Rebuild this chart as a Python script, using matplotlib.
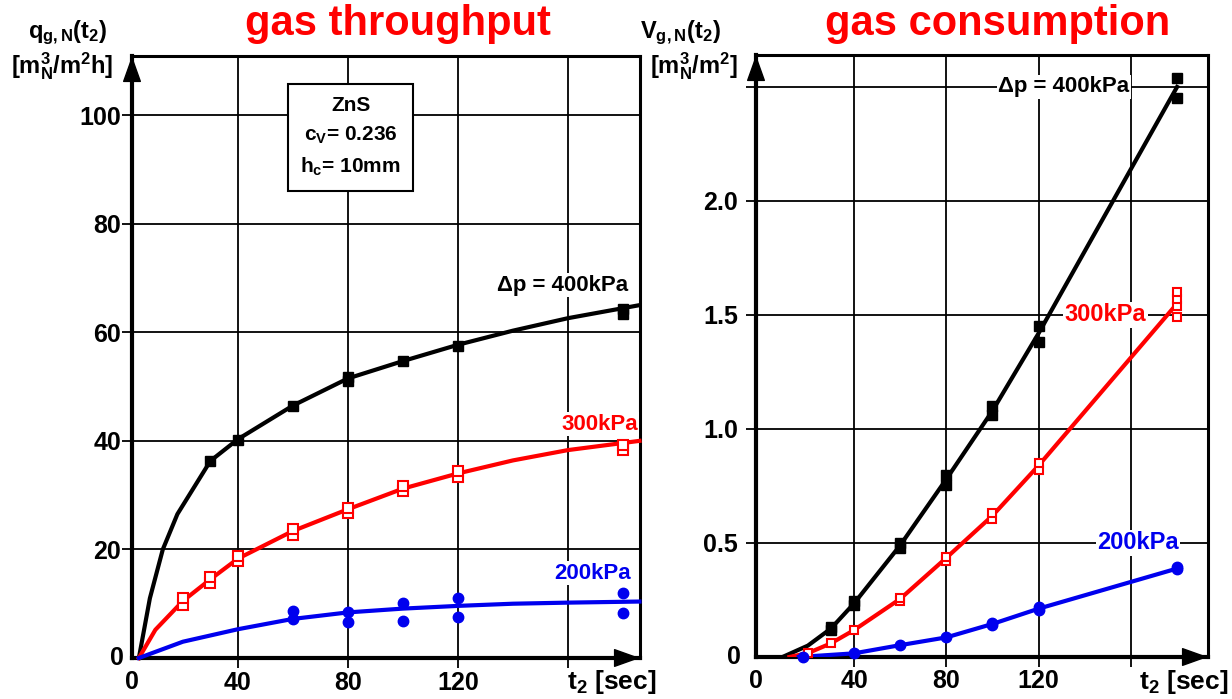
import matplotlib
matplotlib.use("Agg")
import matplotlib.pyplot as plt

plt.rcParams['font.family'] = ['Liberation Sans', 'DejaVu Sans']
plt.rcParams['font.weight'] = 'bold'
plt.rcParams['mathtext.fontset'] = 'custom'
plt.rcParams['mathtext.bf'] = 'Liberation Sans:bold'
plt.rcParams['mathtext.rm'] = 'Liberation Sans:bold'
plt.rcParams['mathtext.it'] = 'Liberation Sans:bold'
plt.rcParams['mathtext.default'] = 'bf'

RED = '#ff0000'
BLUE = '#0000ee'

# ---- gas throughput q_gN(t2) ----
q400_line_t = [4, 8, 12.7, 18, 30, 40, 60, 80, 100, 120, 140, 160, 186]
q400_line = [0, 11, 20, 26.5, 36.3, 40.3, 46.5, 51.5, 54.7, 57.7, 60.3, 62.6, 65]
q400_pts_t = [30, 40, 60, 80, 80, 100, 120, 180, 180]
q400_pts = [36.2, 40.2, 46.5, 51.0, 51.8, 54.7, 57.5, 63.3, 64.3]

q300_line_t = [4, 10, 20, 30, 40, 60, 80, 100, 120, 140, 160, 186]
q300_line = [0, 5.2, 10.5, 14.5, 18.3, 23.4, 27.4, 31.2, 34.0, 36.4, 38.3, 40]
q300_pts_t = [20, 20, 30, 30, 40, 40, 60, 60, 80, 80, 100, 100, 120, 120, 180, 180]
q300_pts = [9.8, 11.0, 13.8, 15.0, 17.8, 18.8, 22.7, 23.8, 26.7, 27.7, 30.8, 31.6, 33.4, 34.4, 38.3, 39.3]

q200_line_t = [4, 20, 40, 60, 80, 100, 120, 140, 160, 186]
q200_line = [0, 3.0, 5.3, 7.2, 8.4, 9.1, 9.6, 10.0, 10.2, 10.4]
q200_pts_t = [60, 60, 80, 80, 100, 100, 120, 120, 180, 180]
q200_pts = [7.2, 8.6, 6.6, 8.4, 6.9, 10.2, 7.6, 11.0, 8.2, 12.0]

# ---- gas consumption V_gN(t2) ----
v400_line_t = [9, 20, 30, 40, 60, 80, 100, 120, 180]
v400_line = [0, 0.05, 0.125, 0.235, 0.49, 0.78, 1.08, 1.42, 2.5]
v400_pts_t = [30, 30, 40, 40, 60, 60, 80, 80, 100, 100, 120, 120, 180, 180]
v400_pts = [0.12, 0.13, 0.23, 0.245, 0.48, 0.50, 0.755, 0.80, 1.06, 1.10, 1.38, 1.45, 2.45, 2.54]

v300_line_t = [12, 20, 30, 40, 60, 80, 100, 120, 180]
v300_line = [0, 0.017, 0.06, 0.118, 0.255, 0.435, 0.62, 0.84, 1.55]
v300_pts_t = [20, 30, 40, 60, 60, 80, 80, 100, 100, 120, 120, 180, 180, 180, 180]
v300_pts = [0.017, 0.06, 0.118, 0.245, 0.26, 0.42, 0.44, 0.605, 0.63, 0.82, 0.85, 1.49, 1.54, 1.57, 1.60]

v200_line_t = [16, 40, 60, 80, 100, 120, 180]
v200_line = [0, 0.016, 0.052, 0.086, 0.145, 0.212, 0.388]
v200_pts_t = [18, 40, 60, 80, 100, 100, 120, 120, 180, 180]
v200_pts = [0, 0.016, 0.052, 0.086, 0.14, 0.15, 0.205, 0.22, 0.385, 0.395]

fig = plt.figure(figsize=(12.32, 6.99), dpi=100)
ax1 = fig.add_axes([132 / 1232, 41 / 699, 508 / 1232, 602 / 699])
ax2 = fig.add_axes([756 / 1232, 42 / 699, 452 / 1232, 602 / 699])

TICK_FS = 18


def style_axes(ax, xlim, ylim, xticks, yticks, ylabels, ypad):
    ax.set_xlim(*xlim)
    ax.set_ylim(*ylim)
    ax.set_xticks(xticks)
    ax.set_xticklabels(['40', '80', '120', ''])
    ax.set_yticks(yticks)
    ax.set_yticklabels(ylabels)
    ax.grid(True, color='black', lw=1.3, zorder=0)
    ax.set_axisbelow(True)
    ax.tick_params(direction='out', length=7, width=1.3, labelsize=TICK_FS, pad=2)
    ax.tick_params(axis='y', pad=ypad)
    for s in ax.spines.values():
        s.set_linewidth(2.2)
    ax.spines['left'].set_linewidth(3)
    ax.spines['bottom'].set_linewidth(3)
    for lab in ax.get_xticklabels() + ax.get_yticklabels():
        lab.set_fontweight('bold')
    # "0" at the origin
    ax.annotate('0', xy=(0, 0), xycoords='axes fraction', xytext=(0, -17),
                textcoords='offset points', ha='center', va='center', fontsize=TICK_FS)
    ax.annotate('0', xy=(0, 0), xycoords='axes fraction', xytext=(-(5 + ypad), 0),
                textcoords='offset points', ha='right', va='center', fontsize=TICK_FS)
    # arrows on axes
    ax.annotate('', xy=(0, 1), xytext=(0, 0.9), xycoords='axes fraction',
                arrowprops=dict(arrowstyle='-|>,head_length=0.7,head_width=0.25',
                                mutation_scale=24, color='black', lw=1, shrinkA=0, shrinkB=0))
    ax.annotate('', xy=(1, 0), xytext=(0.9, 0), xycoords='axes fraction',
                arrowprops=dict(arrowstyle='-|>,head_length=0.7,head_width=0.25',
                                mutation_scale=24, color='black', lw=1, shrinkA=0, shrinkB=0))


style_axes(ax1, (1.5, 186.2), (0, 110.9), [40, 80, 120, 160],
           [20, 40, 60, 80, 100], ['20', '40', '60', '80', '100'], 1)
style_axes(ax2, (-2.5, 193.4), (0, 2.64), [40, 80, 120, 160],
           [0.5, 1.0, 1.5, 2.0, 2.5], ['0.5', '1.0', '1.5', '2.0', ''], 6)

LW = 3

# left panel curves
ax1.plot(q400_line_t, q400_line, color='black', lw=LW, zorder=3, clip_on=False)
ax1.plot(q400_pts_t, q400_pts, 's', color='black', ms=6.5, zorder=4, clip_on=False)
ax1.plot(q300_line_t, q300_line, color=RED, lw=LW, zorder=3, clip_on=False)
ax1.plot(q300_pts_t, q300_pts, 's', mfc='white', mec=RED, mew=1.5, ms=7, zorder=4, clip_on=False)
ax1.plot(q200_line_t, q200_line, color=BLUE, lw=LW, zorder=3, clip_on=False)
ax1.plot(q200_pts_t, q200_pts, 'o', color=BLUE, ms=7.5, zorder=4, clip_on=False)

# right panel curves
ax2.plot(v400_line_t, v400_line, color='black', lw=LW, zorder=3)
ax2.plot(v400_pts_t, v400_pts, 's', color='black', ms=7, zorder=4, clip_on=False)
ax2.plot(v300_line_t, v300_line, color=RED, lw=LW, zorder=3)
ax2.plot(v300_pts_t, v300_pts, 's', mfc='white', mec=RED, mew=1.5, ms=6, zorder=4, clip_on=False)
ax2.plot(v200_line_t, v200_line, color=BLUE, lw=LW, zorder=3)
ax2.plot(v200_pts_t, v200_pts, 'o', color=BLUE, ms=7.5, zorder=4, clip_on=False)

LAB_FS = 16
wb = dict(facecolor='white', edgecolor='none', pad=1)
ax1.text(158, 68.7, '\u0394p = 400kPa', ha='center', va='center', fontsize=LAB_FS, color='black', bbox=wb, zorder=5)
ax1.text(171.5, 43.1, '300kPa', ha='center', va='center', fontsize=LAB_FS, color=RED, bbox=wb, zorder=5)
ax1.text(169, 15.6, '200kPa', ha='center', va='center', fontsize=LAB_FS, color=BLUE, bbox=wb, zorder=5)

ax2.text(131, 2.5, '\u0394p = 400kPa', ha='center', va='center', fontsize=LAB_FS, color='black', bbox=wb, zorder=5)
ax2.text(149, 1.5, '300kPa', ha='center', va='center', fontsize=LAB_FS + 1, color=RED, bbox=wb, zorder=5)
ax2.text(163, 0.5, '200kPa', ha='center', va='center', fontsize=LAB_FS + 1, color=BLUE, bbox=wb, zorder=5)

# material box
ax1.text(81, 96, 'ZnS\nc$_V$= 0.236\nh$_c$= 10mm', ha='center', va='center', fontsize=15,
         linespacing=1.6, zorder=6,
         bbox=dict(facecolor='white', edgecolor='black', lw=1.5, boxstyle='square,pad=0.6'))

# titles and axis labels
fig.text(398 / 1232, 1 - 24 / 699, 'gas throughput', color=RED, fontsize=30, ha='center', va='center')
fig.text(998 / 1232, 1 - 24 / 699, 'gas consumption', color=RED, fontsize=30, ha='center', va='center')

fig.text(68 / 1232, 1 - 33 / 699, 'q$_{g,N}$(t$_2$)', fontsize=17, ha='center', va='center')
fig.text(62 / 1232, 1 - 66 / 699, '[m$_N^3$/m$^2$h]', fontsize=17, ha='center', va='center')
fig.text(680 / 1232, 1 - 33 / 699, 'V$_{g,N}$(t$_2$)', fontsize=17, ha='center', va='center')
fig.text(694 / 1232, 1 - 66 / 699, '[m$_N^3$/m$^2$]', fontsize=17, ha='center', va='center')

fig.text(612 / 1232, 1 - 682 / 699, 't$_2$ [sec]', fontsize=19, ha='center', va='center')
fig.text(1184 / 1232, 1 - 682 / 699, 't$_2$ [sec]', fontsize=19, ha='center', va='center')

fig.savefig('out.png', dpi=100)
